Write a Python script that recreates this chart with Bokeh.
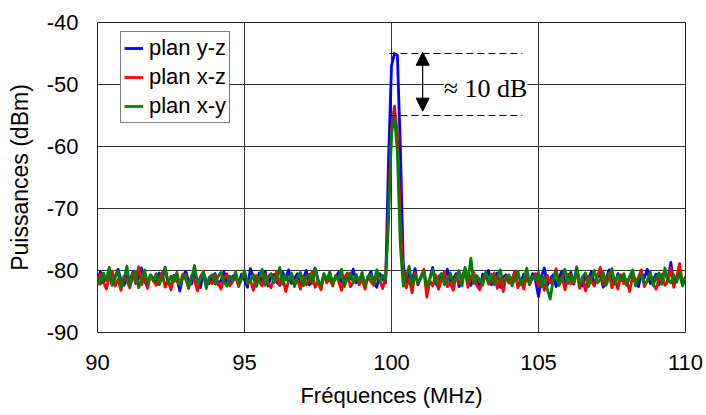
import numpy as np
from bokeh.plotting import figure
from bokeh.models import (FixedTicker, Legend, LegendItem, Label, Arrow,
                          NormalHead, ColumnDataSource)
from bokeh.embed import file_html
from bokeh.resources import INLINE

# ---------------- data ----------------
freq_start = 90.0
freq_step = 0.1
n_points = 201
freq = np.round(freq_start + freq_step * np.arange(n_points), 2)

plan_yz = [
    -81.5, -80.2, -82.0, -81.1, -80.5, -82.3, -81.0, -79.8, -81.6, -82.4,
    -80.9, -81.7, -80.3, -82.1, -81.2, -79.6, -81.8, -82.5, -80.7, -81.3,
    -82.0, -80.4, -81.5, -79.5, -81.9, -82.6, -80.8, -81.2, -83.3, -81.0,
    -80.1, -81.8, -82.2, -80.6, -81.4, -82.8, -80.3, -81.7, -82.1, -81.0,
    -80.5, -82.3, -81.6, -80.2, -81.9, -82.4, -80.9, -81.3, -82.0, -80.6,
    -81.5, -82.7, -79.7, -81.2, -82.3, -80.4, -81.8, -80.1, -82.5, -81.0,
    -80.6, -81.9, -82.4, -80.3, -81.5, -79.9, -82.1, -81.3, -80.5, -82.6,
    -81.2, -80.0, -82.3, -81.7, -79.6, -81.4, -82.8, -80.7, -81.9, -80.4,
    -82.2, -81.0, -80.3, -81.8, -82.5, -80.6, -81.3, -79.8, -82.0, -81.5,
    -80.7, -82.4, -81.1, -80.2, -81.9, -82.7, -80.5, -81.4, -82.0, -62.0,
    -47.0, -45.0, -45.3, -60.0, -79.0, -82.6, -80.4, -81.8, -79.7, -82.3,
    -81.0, -80.2, -82.5, -81.4, -79.5, -81.9, -82.8, -80.6, -81.2, -79.8,
    -82.1, -81.3, -80.5, -82.6, -81.0, -79.9, -81.7, -82.4, -80.8, -81.5,
    -82.9, -80.6, -81.2, -80.0, -82.3, -81.6, -80.4, -82.7, -81.1, -80.7,
    -82.0, -81.4, -80.2, -82.5, -81.8, -80.6, -81.3, -82.1, -80.5, -81.7,
    -84.2, -81.0, -79.6, -82.4, -81.3, -80.7, -82.6, -81.1, -80.1, -82.0,
    -81.5, -80.3, -82.2, -79.7, -81.8, -82.5, -80.9, -81.4, -80.2, -82.3,
    -81.1, -80.6, -82.7, -81.3, -79.9, -81.8, -82.2, -80.5, -81.6, -80.8,
    -82.4, -81.0, -80.3, -81.7, -82.6, -80.4, -81.2, -79.8, -82.1, -81.5,
    -80.6, -82.3, -81.1, -80.0, -81.8, -78.7, -82.0, -81.3, -80.5, -82.2,
    -81.0,
]

plan_xz = [
    -82.3, -80.6, -81.8, -83.0, -81.2, -80.1, -82.5, -81.4, -83.2, -80.9,
    -81.7, -82.8, -80.5, -81.9, -79.4, -82.3, -81.0, -82.9, -80.8, -81.6,
    -82.4, -81.1, -80.3, -82.7, -81.5, -83.1, -80.9, -81.8, -82.2, -80.6,
    -81.4, -82.9, -80.8, -81.6, -83.3, -81.0, -80.2, -82.5, -81.7, -82.1,
    -80.7, -81.9, -83.0, -81.3, -80.5, -82.4, -81.8, -80.9, -82.6, -81.2,
    -80.4, -82.1, -81.5, -83.2, -80.8, -81.7, -82.5, -80.6, -81.9, -82.8,
    -81.3, -80.1, -82.4, -81.0, -83.4, -81.6, -80.7, -82.2, -81.5, -83.0,
    -80.9, -82.3, -81.4, -80.2, -82.7, -81.8, -83.1, -80.6, -82.0, -81.3,
    -82.5, -80.8, -81.7, -83.2, -81.1, -80.4, -82.6, -81.9, -80.7, -82.3,
    -81.4, -83.0, -80.9, -81.8, -82.4, -80.6, -81.5, -82.9, -81.2, -70.0,
    -57.0, -53.5, -58.0, -72.0, -80.5, -82.8, -81.3, -83.6, -80.4, -82.1,
    -81.0, -79.8, -84.3, -81.6, -82.5, -80.7, -83.0, -81.4, -80.2, -82.6,
    -81.9, -83.2, -80.8, -82.1, -81.3, -79.9, -82.7, -81.0, -80.3, -82.4,
    -83.1, -81.5, -80.6, -82.2, -81.8, -80.4, -82.9, -81.2, -83.4, -80.9,
    -82.0, -81.4, -80.1, -82.8, -81.6, -83.0, -80.7, -82.3, -81.1, -80.5,
    -82.6, -81.3, -83.2, -80.8, -82.0, -81.5, -79.7, -82.4, -81.0, -83.1,
    -80.6, -82.2, -81.7, -80.3, -82.9, -81.2, -83.3, -80.9, -81.8, -82.5,
    -81.0, -79.5, -82.3, -81.6, -80.4, -82.8, -81.3, -83.0, -80.7, -82.1,
    -81.5, -83.4, -80.9, -82.0, -81.1, -79.9, -82.6, -81.7, -80.5, -82.3,
    -83.0, -81.2, -80.6, -82.4, -81.8, -79.6, -82.7, -81.0, -78.9, -82.2,
    -81.4,
]

plan_xy = [
    -81.0, -82.2, -80.4, -81.6, -79.5, -82.4, -81.2, -80.1, -82.7, -81.5,
    -79.3, -82.5, -81.0, -80.2, -82.8, -81.4, -79.9, -82.0, -80.8, -81.7,
    -80.5, -82.3, -81.1, -79.6, -82.1, -80.9, -81.8, -80.3, -82.4, -81.0,
    -80.6, -82.7, -81.3, -79.2, -82.0, -81.5, -80.4, -82.9, -81.1, -80.7,
    -82.2, -81.0, -80.3, -81.8, -82.5, -80.9, -81.6, -80.2, -82.3, -81.4,
    -80.0, -82.1, -81.5, -80.6, -82.6, -81.2, -79.8, -82.4, -81.0, -80.5,
    -82.0, -81.3, -79.5, -82.2, -80.8, -81.9, -80.4, -82.6, -81.1, -80.3,
    -82.5, -81.0, -80.6, -82.1, -79.7, -81.8, -82.4, -80.5, -81.6, -80.2,
    -82.3, -80.9, -81.5, -79.8, -82.6, -81.2, -80.4, -82.0, -80.7, -81.8,
    -80.3, -82.4, -81.1, -80.6, -82.2, -79.9, -81.7, -80.8, -81.4, -72.0,
    -58.0, -55.0, -61.0, -76.0, -82.5, -81.0, -79.3, -82.4, -80.7, -82.0,
    -81.2, -80.1, -82.6, -81.4, -79.8, -82.2, -81.0, -80.5, -82.3, -81.6,
    -80.4, -82.0, -81.3, -80.0, -82.5, -79.5, -81.7, -78.0, -82.1, -80.8,
    -81.5, -82.4, -80.3, -81.9, -80.6, -82.3, -81.1, -79.9, -82.0, -81.4,
    -80.7, -82.5, -81.2, -80.1, -82.3, -81.6, -79.6, -82.2, -80.9, -81.5,
    -80.3, -82.6, -81.0, -83.0, -84.6, -81.5, -80.2, -82.4, -81.3, -79.8,
    -82.1, -80.6, -81.9, -79.4, -82.3, -81.0, -80.4, -82.6, -81.2, -80.0,
    -82.0, -81.5, -80.3, -82.4, -81.1, -79.7, -82.2, -80.8, -81.6, -80.5,
    -82.3, -81.0, -79.9, -82.5, -81.3, -80.6, -82.1, -81.7, -80.2, -82.4,
    -81.1, -80.4, -82.2, -79.6, -81.5, -82.0, -80.7, -81.9, -80.3, -82.5,
    -81.2,
]

series_names = ["plan y-z", "plan x-z", "plan x-y"]
series_colors = ["#0000FF", "#FF0000", "#008000"]
x_ticks = [90, 95, 100, 105, 110]
y_ticks = [-90, -80, -70, -60, -50, -40]
delta_text = "≈ 10 dB"

assert len(plan_yz) == len(plan_xz) == len(plan_xy) == n_points

# ---------------- figure ----------------
FONT = "Liberation Sans"
p = figure(width=706, height=415, x_range=(90, 110), y_range=(-90, -40),
           output_backend="svg", toolbar_location=None,
           min_border_left=97, min_border_right=21,
           min_border_top=22, min_border_bottom=83)
p.background_fill_color = "white"
p.border_fill_color = "white"
p.outline_line_color = "#222222"
p.outline_line_width = 1

for ax in (p.xaxis[0], p.yaxis[0]):
    ax.axis_line_color = None
    ax.major_tick_line_color = None
    ax.minor_tick_line_color = None
    ax.major_tick_out = 0
    ax.major_tick_in = 0
    ax.major_label_text_font = FONT
    ax.major_label_text_font_size = "22px"
    ax.major_label_text_color = "black"
    ax.axis_label_text_font = FONT
    ax.axis_label_text_font_size = "22px"
    ax.axis_label_text_font_style = "normal"
    ax.axis_label_text_color = "black"

p.yaxis.axis_label_text_font_size = "23px"
p.xaxis.ticker = FixedTicker(ticks=x_ticks)
p.yaxis.ticker = FixedTicker(ticks=y_ticks)
p.xaxis.major_label_overrides = {t: str(t) for t in x_ticks}
p.yaxis.major_label_overrides = {t: str(t) for t in y_ticks}
p.xaxis.axis_label = "Fréquences (MHz)"
p.yaxis.axis_label = "Puissances (dBm)"
p.xaxis.major_label_standoff = 22
p.xaxis.axis_label_standoff = 10
p.yaxis.major_label_standoff = 19
p.yaxis.axis_label_standoff = 11

p.xgrid.ticker = FixedTicker(ticks=x_ticks)
p.ygrid.ticker = FixedTicker(ticks=y_ticks)
for g in (p.xgrid[0], p.ygrid[0]):
    g.grid_line_color = "#333333"
    g.grid_line_width = 1

renderers = []
for name, vals, col in zip(series_names, [plan_yz, plan_xz, plan_xy], series_colors):
    src = ColumnDataSource(dict(x=freq, y=vals))
    r = p.line("x", "y", source=src, line_color=col, line_width=2.8,
               line_join="round")
    renderers.append(r)

legend = Legend(items=[LegendItem(label=n, renderers=[r])
                       for n, r in zip(series_names, renderers)],
                location=(23, 209), margin=0, padding=3, spacing=3,
                glyph_width=19, glyph_height=20, label_standoff=6,
                label_text_font=FONT, label_text_font_size="22px",
                label_text_color="black",
                border_line_color="black", border_line_width=1,
                background_fill_color="white", background_fill_alpha=1.0)
p.add_layout(legend)

# ---------------- annotation ----------------
top_level = max(plan_yz)
low_level = max(plan_xy)
p.segment(x0=[99.93, 99.93], x1=[104.45, 104.45],
          y0=[top_level, low_level], y1=[top_level, low_level],
          line_color="black", line_width=1.2, line_dash="7 4")

arrow = Arrow(x_start=101.06, y_start=low_level + 0.7,
              x_end=101.06, y_end=top_level + 0.2,
              line_color="black", line_width=1.2,
              start=NormalHead(size=13, fill_color="black", line_color="black"),
              end=NormalHead(size=13, fill_color="black", line_color="black"))
p.add_layout(arrow)

lbl = Label(x=101.78, y=(top_level + low_level) / 2 - 0.65, text=delta_text,
            text_font="Liberation Serif", text_font_size="26px",
            text_baseline="middle", text_align="left", text_color="black",
            background_fill_color="white", background_fill_alpha=1.0)
p.add_layout(lbl)

open("out.html", "w").write(file_html(p, INLINE))
